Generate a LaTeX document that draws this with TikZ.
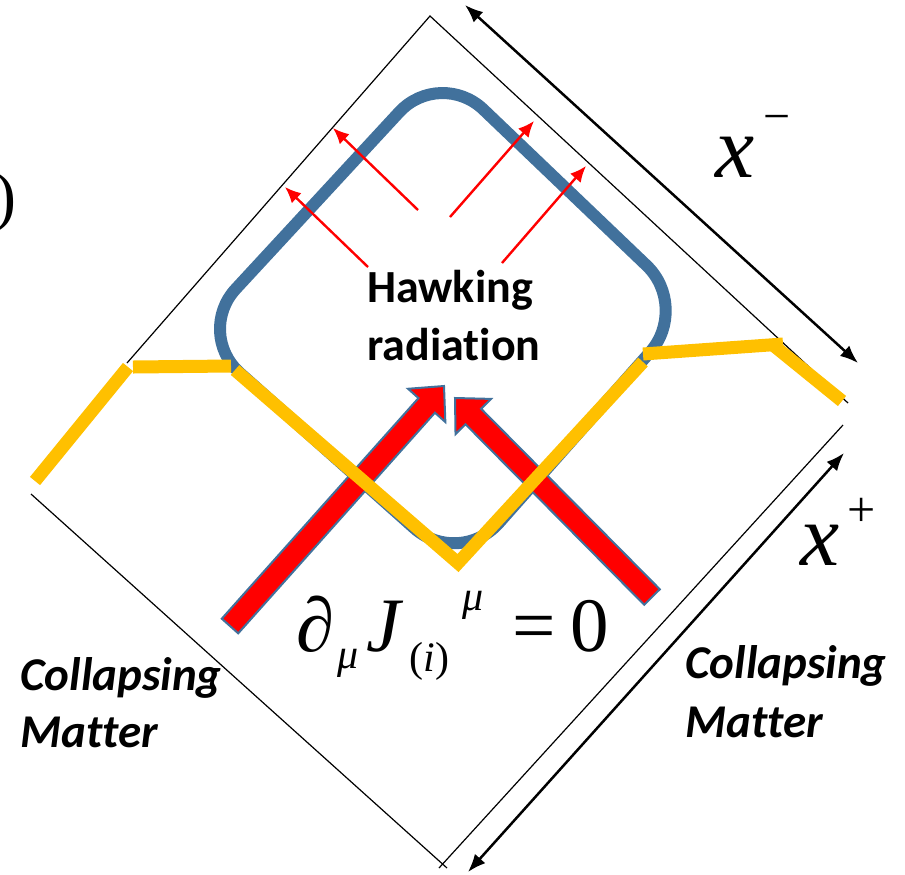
\documentclass[tikz,border=0pt]{standalone}
\usepackage{fontspec}
\setmainfont{Liberation Serif}
\newfontfamily\calibri[Ligatures={NoCommon,NoRequired,NoContextual}]{Carlito}
\usetikzlibrary{arrows.meta,calc}
\definecolor{horizonblue}{RGB}{65,113,156}
\definecolor{matteryellow}{RGB}{255,192,0}
\definecolor{hawkred}{RGB}{255,0,0}
\newcommand\fatarrow[2]{%
  \path ($(#2)!13pt!(#1)$) coordinate (#1base);
  \filldraw[fatstyle] ($(#1)!5.5pt!90:(#2)$) -- ($(#1base)!5.5pt!90:(#2)$) -- ($(#1base)!12.5pt!90:(#2)$) -- (#2) -- ($(#1base)!12.5pt!-90:(#2)$) -- ($(#1base)!5.5pt!-90:(#2)$) -- ($(#1)!5.5pt!-90:(#2)$) -- cycle;}
\begin{document}
\begin{tikzpicture}[x=0.5pt,y=-0.5pt,
  frame/.style={line width=0.6pt,black},
  dimarrow/.style={line width=1.25pt,black,{Latex[length=9pt,width=7pt]}-{Latex[length=9pt,width=7pt]}},
  horizon/.style={line width=6pt,horizonblue,rounded corners=30pt},
  fatstyle/.style={fill=hawkred,draw=horizonblue,line width=1pt,line join=miter},
  matter/.style={line width=6.5pt,matteryellow,line cap=butt,line join=miter},
  radarrow/.style={line width=1.2pt,hawkred,-{Latex[length=8pt,width=7pt]}},
  hawktext/.style={font=\calibri\bfseries\fontsize{23}{28}\selectfont,inner sep=0pt,anchor=base},
  colltext/.style={font=\calibri\bfseries\itshape\fontsize{23.5}{28}\selectfont,inner sep=0pt,anchor=base west},
  eqtext/.style={inner sep=0pt,anchor=base west}]
\useasboundingbox (0,0) rectangle (905,874);
% frame (Penrose diamond)
\coordinate (dtop) at (430,16);
\coordinate (dul) at (127,363);
\coordinate (dur) at (848,403);
\coordinate (dlr) at (843,425);
\coordinate (dll) at (31,494);
\coordinate (dbotl) at (447,868);
\coordinate (dbotr) at (439,868);
\draw[frame] (dul) -- (dtop) -- (dur);
\draw[frame] (dll) -- (dbotl);
\draw[frame] (dlr) -- (dbotr);
% coordinate arrows
\coordinate (xma) at (465,5);
\coordinate (xmb) at (858,363);
\coordinate (xpa) at (844,453);
\coordinate (xpb) at (468,872);
\draw[dimarrow] (xma) -- (xmb);
\draw[dimarrow] (xpa) -- (xpb);
% horizon
\coordinate (hT) at (440,68);
\coordinate (hR) at (690,307);
\coordinate (hB) at (459,568);
\coordinate (hL) at (195,333);
\draw[horizon] ($(hT)!0.5!(hL)$) -- (hT) -- (hR) -- (hB) -- (hL) -- cycle;
% fat arrows
\coordinate (fla) at (230,626);
\coordinate (flb) at (444,386);
\coordinate (fra) at (652,597);
\coordinate (frb) at (455,398);
\fatarrow{fla}{flb}
\fatarrow{fra}{frb}
% collapsing matter shells
\coordinate (y1a) at (35,481);
\coordinate (y1b) at (128,367);
\coordinate (y2a) at (133,367);
\coordinate (y2b) at (231,366);
\coordinate (y3a) at (235,370);
\coordinate (y3b) at (458,563);
\coordinate (y3c) at (643,362);
\coordinate (y4a) at (643,354);
\coordinate (y4b) at (783,344);
\coordinate (y5a) at (773,345);
\coordinate (y5b) at (842,401);
\draw[matter] (y1a) -- (y1b);
\draw[matter] (y2a) -- (y2b);
\draw[matter] (y3a) -- (y3b) -- (y3c);
\draw[matter] (y4a) -- (y4b);
\draw[matter] (y5a) -- (y5b);
% Hawking radiation arrows
\coordinate (r1a) at (418,210);
\coordinate (r1b) at (333,128);
\coordinate (r2a) at (368,267);
\coordinate (r2b) at (285,187);
\coordinate (r3a) at (450,217);
\coordinate (r3b) at (534,121);
\coordinate (r4a) at (502,263);
\coordinate (r4b) at (586,166);
\draw[radarrow] (r1a) -- (r1b);
\draw[radarrow] (r2a) -- (r2b);
\draw[radarrow] (r3a) -- (r3b);
\draw[radarrow] (r4a) -- (r4b);
% texts
\node[hawktext] (hawk1) at (450,302) {Hawking};
\node[hawktext] (hawk2) at (454,360) {radiation};
\node[colltext] (coll1) at (20,690) {Collapsing};
\node[colltext] (coll2) at (20,747) {Matter};
\node[colltext] (colr1) at (685,678) {Collapsing};
\node[colltext] (colr2) at (685,737) {Matter};
\node[eqtext,font=\itshape\fontsize{44}{44}\selectfont] (xminus) at (715,177) {x};
\node[inner sep=0pt,font=\fontsize{24}{24}\selectfont] (minus) at (777,124) {−};
\node[eqtext,font=\itshape\fontsize{44}{44}\selectfont] (xplus) at (800,565) {x};
\node[inner sep=0pt,font=\fontsize{25}{25}\selectfont] (plus) at (862,512) {+};
\node[eqtext,font=\itshape\fontsize{38.5}{40}\selectfont] (eqd) at (296,651) {∂};
\node[eqtext,font=\itshape\fontsize{21}{22}\selectfont] (eqmua) at (337,668) {μ};
\node[eqtext,font=\itshape\fontsize{38.5}{40}\selectfont] (eqJ) at (366,651) {J};
\node[eqtext,font=\fontsize{21}{22}\selectfont] (eqi) at (409,671) {(\textit{i})};
\node[eqtext,font=\itshape\fontsize{21}{22}\selectfont] (eqmub) at (462,610) {μ};
\node[eqtext,font=\fontsize{38.5}{40}\selectfont] (eqeq) at (512,651) {=};
\node[eqtext,font=\fontsize{38.5}{40}\selectfont] (eqzero) at (570,651) {0};
\node[inner sep=0pt,anchor=base east,font=\fontsize{33}{33}\selectfont] (paren) at (17,218) {)};
\end{tikzpicture}
\end{document}
